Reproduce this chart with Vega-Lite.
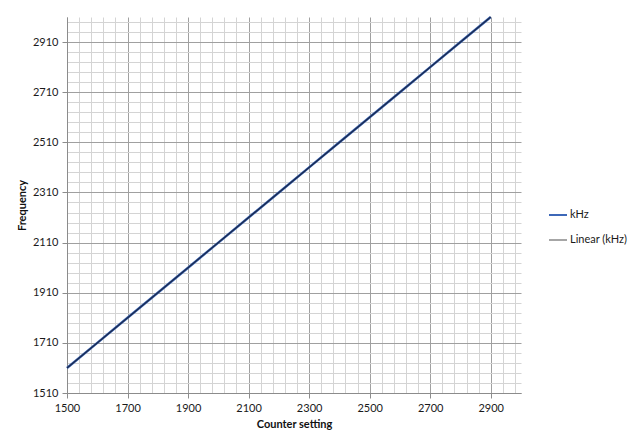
{
  "$schema": "https://vega.github.io/schema/vega-lite/v6.json",
  "autosize": "none",
  "width": 454,
  "height": 376,
  "padding": {"left": 67, "top": 17, "right": 119, "bottom": 55},
  "background": "white",
  "config": {
    "view": {"stroke": null},
    "font": "Lato",
    "axis": {"labelFont": "Lato", "titleFont": "Lato", "labelColor": "#1a1a1a", "titleColor": "#111"}
  },
  "data": {
    "values": [
      {"counter": 1500, "frequency": 1610},
      {"counter": 1600, "frequency": 1710},
      {"counter": 1700, "frequency": 1810},
      {"counter": 1800, "frequency": 1910},
      {"counter": 1900, "frequency": 2010},
      {"counter": 2000, "frequency": 2110},
      {"counter": 2100, "frequency": 2210},
      {"counter": 2200, "frequency": 2310},
      {"counter": 2300, "frequency": 2410},
      {"counter": 2400, "frequency": 2510},
      {"counter": 2500, "frequency": 2610},
      {"counter": 2600, "frequency": 2710},
      {"counter": 2700, "frequency": 2810},
      {"counter": 2800, "frequency": 2910},
      {"counter": 2900, "frequency": 3010}
    ]
  },
  "encoding": {
    "x": {
      "field": "counter",
      "type": "quantitative",
      "title": "Counter setting",
      "scale": {"domain": [1500, 3000], "nice": false, "zero": false},
      "axis": {
        "values": [1500,1540,1580,1620,1660,1700,1740,1780,1820,1860,1900,1940,1980,2020,2060,2100,2140,2180,2220,2260,2300,2340,2380,2420,2460,2500,2540,2580,2620,2660,2700,2740,2780,2820,2860,2900,2940,2980],
        "format": "d",
        "labelExpr": "(datum.value - 1500) % 200 == 0 ? datum.label : ''",
        "labelOverlap": false,
        "labelFlush": false,
        "labelFontSize": 11,
        "labelPadding": 4,
        "tickSize": 5,
        "tickColor": {"condition": {"test": "(datum.value - 1500) % 200 == 0", "value": "#8c8c8c"}, "value": "transparent"},
        "gridColor": {"condition": {"test": "(datum.value - 1500) % 200 == 0", "value": "#a0a0a0"}, "value": "#d4d4d4"},
        "gridOpacity": 1,
        "domainColor": "#8c8c8c",
        "titleFontSize": 11,
        "titleFontWeight": "bold",
        "titlePadding": 5
      }
    },
    "y": {
      "field": "frequency",
      "type": "quantitative",
      "title": "Frequency",
      "scale": {"domain": [1510, 3010], "nice": false, "zero": false},
      "axis": {
        "values": [1510,1550,1590,1630,1670,1710,1750,1790,1830,1870,1910,1950,1990,2030,2070,2110,2150,2190,2230,2270,2310,2350,2390,2430,2470,2510,2550,2590,2630,2670,2710,2750,2790,2830,2870,2910,2950,2990],
        "format": "d",
        "labelExpr": "(datum.value - 1510) % 200 == 0 ? datum.label : ''",
        "labelOverlap": false,
        "labelFontSize": 11,
        "labelPadding": 4,
        "tickSize": 5,
        "tickColor": {"condition": {"test": "(datum.value - 1510) % 200 == 0", "value": "#8c8c8c"}, "value": "transparent"},
        "gridColor": {"condition": {"test": "(datum.value - 1510) % 200 == 0", "value": "#a0a0a0"}, "value": "#d4d4d4"},
        "gridOpacity": 1,
        "domainColor": "#8c8c8c",
        "titleFontSize": 11,
        "titleFontWeight": "bold",
        "titlePadding": 5
      }
    }
  },
  "layer": [
    {
      "mark": {"type": "line", "strokeWidth": 2.5},
      "encoding": {
        "color": {
          "datum": "kHz",
          "type": "nominal",
          "scale": {"domain": ["kHz", "Linear (kHz)"], "range": ["#3d68b8", "#a6a6a6"]},
          "legend": {
            "title": null,
            "orient": "none",
            "legendX": 481,
            "legendY": 188,
            "symbolType": "stroke",
            "symbolSize": 324,
            "symbolStrokeWidth": 2,
            "labelFont": "Lato",
            "labelFontSize": 11,
            "labelColor": "#1a1a1a",
            "rowPadding": 10,
            "labelOffset": 2
          }
        }
      }
    },
    {
      "transform": [{"regression": "frequency", "on": "counter"}],
      "mark": {"type": "line", "strokeWidth": 1.3, "stroke": "#1b2a4e"},
      "encoding": {}
    }
  ]
}
